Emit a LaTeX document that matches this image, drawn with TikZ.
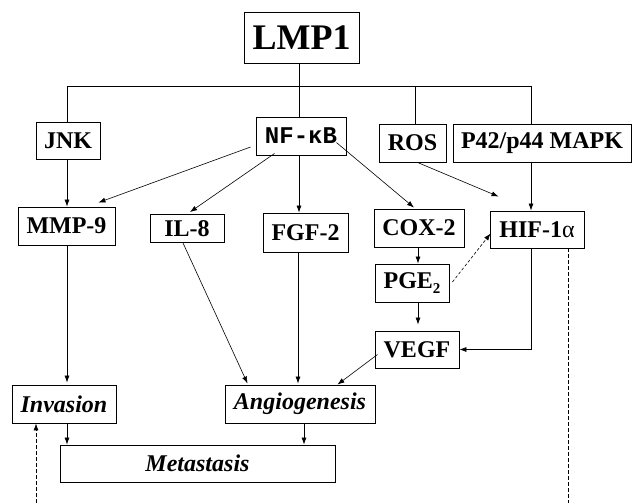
\documentclass[tikz,border=0pt]{standalone}
\usepackage{fontspec}
\setmainfont{Liberation Serif}
\newfontfamily\monofam{Liberation Mono}
\usetikzlibrary{arrows.meta,calc}
\begin{document}
\begin{tikzpicture}[x=1pt,y=-1pt,
  box/.style={draw, line width=0.9pt, inner sep=0pt, font=\fontsize{24}{24}\selectfont\bfseries},
  ibox/.style={box, font=\fontsize{24}{24}\selectfont\bfseries\itshape},
  arr/.style={-{Latex[length=7pt,width=5pt]}, line width=0.6pt},
  ln/.style={line width=0.6pt},
  dsh/.style={line width=0.6pt, dash pattern=on 4pt off 2pt}]
\useasboundingbox (0,0) rectangle (632,503);
% nodes
\node[box, minimum width=115pt, minimum height=51pt, font=\fontsize{36}{36}\selectfont\bfseries] (lmp) at (301.5,37.5) {LMP1};
\node[box, minimum width=64pt, minimum height=37pt] (jnk) at (68,140.5) {JNK};
\node[box, minimum width=90pt, minimum height=38pt, font=\fontsize{24}{24}\selectfont\monofam\bfseries] (nfkb) at (301,136) {NF-κB};
\node[box, minimum width=67pt, minimum height=38pt] (ros) at (412.5,143) {ROS};
\node[box, minimum width=178pt, minimum height=38pt] (p42) at (542,143) {P42/p44 MAPK};
\node[box, minimum width=97pt, minimum height=38pt] (mmp) at (66.5,226) {MMP-9};
\node[box, minimum width=74pt, minimum height=28pt] (il8) at (187,228.5) {IL-8};
\node[box, minimum width=85pt, minimum height=39pt] (fgf) at (305.5,232.5) {FGF-2};
\node[box, minimum width=90pt, minimum height=38pt] (cox) at (419,228) {COX-2};
\node[box, minimum width=94pt, minimum height=37pt] (hif) at (537,229.5) {HIF-1\textmd{α}};
\node[box, minimum width=74pt, minimum height=38pt] (pge) at (412,283) {PGE\raisebox{-5pt}{\fontsize{15}{15}\selectfont 2}};
\node[box, minimum width=84pt, minimum height=37pt] (vegf) at (417,349.5) {VEGF};
\node[ibox, minimum width=104pt, minimum height=38pt] (inv) at (64,404) {Invasion};
\node[ibox, minimum width=150pt, minimum height=38pt] (angio) at (300,404) {Angiogenesis};
\node[ibox, minimum width=275pt, minimum height=37pt] (meta) at (197.5,463.5) {Metastasis};
% bus from LMP1
\coordinate (busL) at (67,86);
\coordinate (busR) at (531,86);
\coordinate (hb) at (568,503);
\coordinate (ib) at (36,503);
\draw[ln] ($(lmp.south)+(-2.5,0)$) coordinate (t) -- (t |- nfkb.north);
\draw[ln] (jnk.north -| busL) -- (busL) -- (busR) -- (busR |- p42.north);
\draw[ln] ($(ros.north)+(2.5,0)$) coordinate (t) -- (t |- busR);
% arrows
\draw[arr] (jnk.south -| busL) -- (busL |- mmp.north);
\draw[arr] ($(nfkb.west)+(-5,11)$) -- ($(mmp.north east)+(-17,-4)$);
\draw[arr] ($(nfkb.south west)+(19,-2)$) -- ($(il8.north)+(3,-2)$);
\draw[arr] ($(nfkb.south)+(-2,0)$) coordinate (t) -- (t |- fgf.north);
\draw[arr] ($(nfkb.north east)+(-10,26)$) -- ($(cox.north)+(-5,-1)$);
\draw[arr] ($(ros.south)+(5,0)$) -- ($(hif.north west)+(9,-14)$);
\draw[arr] (busR |- p42.south) -- (busR |- hif.north);
\draw[arr] ($(cox.south)+(-1,0)$) coordinate (t) -- (t |- pge.north);
\draw[arr, dash pattern=on 3pt off 2pt] ($(pge.east)+(3,-1)$) -- ($(hif.west)+(1,4)$);
\draw[arr, shorten >=6pt] ($(pge.south)+(6,0)$) coordinate (t) -- (t |- vegf.north);
\draw[arr] (busR |- hif.south) |- (vegf.east);
\draw[dsh] (hif.south -| hb) -- (hb);
\draw[dsh, -{Latex[length=7pt,width=5pt]}] (ib) -- (ib |- inv.south);
\draw[arr, shorten >=2pt] (busL |- mmp.south) -- (busL |- inv.north);
\draw[arr] ($(il8.south)+(-4,0)$) -- ($(angio.north west)+(23,-1)$);
\draw[arr, shorten >=1pt] ($(fgf.south)+(-7.5,0)$) coordinate (t) -- (t |- angio.north);
\draw[arr] ($(vegf.west)+(3,5)$) -- ($(angio.north east)+(-38,0)$);
\draw[arr] ($(inv.south)+(3,0)$) coordinate (t) -- (t |- meta.north);
\draw[arr] ($(angio.south)+(4,0)$) coordinate (t) -- (t |- meta.north);
\end{tikzpicture}
\end{document}
